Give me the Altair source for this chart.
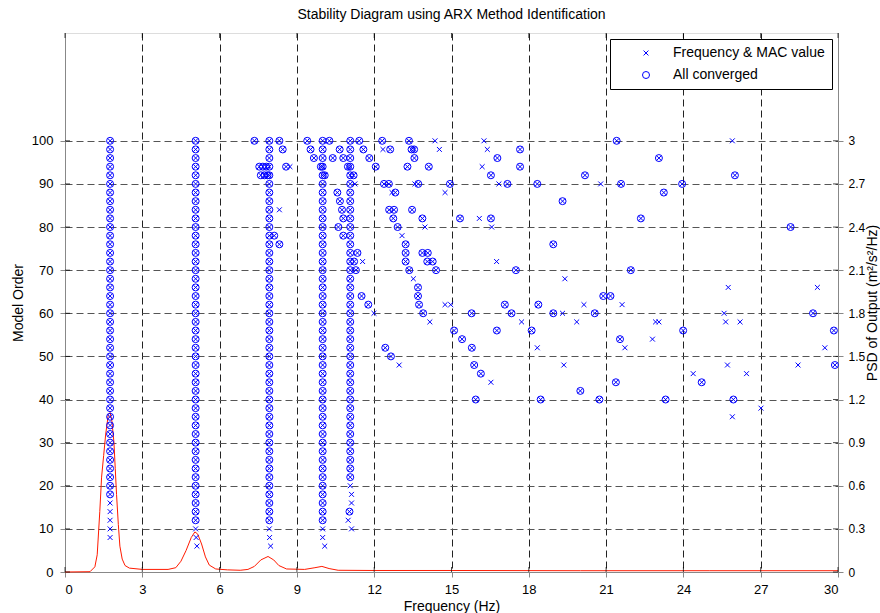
import altair as alt
import pandas as pd

TITLE = "Stability Diagram using ARX Method Identification"
X_TICKS = [0, 3, 6, 9, 12, 15, 18, 21, 24, 27, 30]
ORDER_TICKS = [0, 10, 20, 30, 40, 50, 60, 70, 80, 90, 100]
PSD_TICKS = [0, 0.3, 0.6, 0.9, 1.2, 1.5, 1.8, 2.1, 2.4, 2.7, 3]
KINDS = ["Frequency & MAC value", "All converged"]
X_RANGE = [0, 30]
ORDER_RANGE = [0, 125]
PSD_RANGE = [0, 3.75]

# stable columns (frequency of each column and the model orders where a circle sits)
col_freqs = [1.75, 5.07, 7.93, 10.0, 11.07]
col1_orders = [18, 20, 22, 24, 26, 28, 30, 32, 34, 36, 38, 40, 42, 44, 46, 48, 50, 52, 54, 56, 58,
               60, 62, 64, 66, 68, 70, 72, 74, 76, 78, 80, 82, 84, 86, 88, 90, 92, 94, 96, 98, 100]
col2_orders = [12, 14, 16, 18, 20, 22, 24, 26, 28, 30, 32, 34, 36, 38, 40, 42, 44, 46, 48, 50, 52, 54, 56, 58,
               60, 62, 64, 66, 68, 70, 72, 74, 76, 78, 80, 82, 84, 86, 88, 90, 92, 94, 96, 98, 100]
col3_orders = [12, 14, 16, 18, 20, 22, 24, 26, 28, 30, 32, 34, 36, 38, 40, 42, 44, 46, 48, 50, 52, 54, 56, 58,
               60, 62, 64, 66, 68, 70, 72, 74, 76, 78, 80, 82, 84, 86, 88, 90, 92, 94, 96, 98, 100]
col4_orders = [12, 14, 16, 18, 20, 22, 24, 26, 28, 30, 32, 34, 36, 38, 40, 42, 44, 46, 48, 50, 52, 54, 56, 58,
               60, 62, 64, 66, 68, 70, 72, 74, 76, 78, 80, 82, 84, 86, 88, 90, 92, 94, 96, 98, 100]
col5_orders = [22, 24, 26, 28, 30, 32, 34, 36, 38, 40, 42, 44, 46, 48, 50, 52, 54, 56, 58,
               60, 62, 64, 66, 68, 70, 72, 74, 76, 78, 80, 82, 84, 86, 88, 90, 92, 94, 96, 98, 100]
col_orders = [col1_orders, col2_orders, col3_orders, col4_orders, col5_orders]

# other converged poles (circles)
circ_freq = [7.35, 8.32, 9.40, 10.26, 11.42, 12.31, 13.35, 21.41,
             8.45, 9.53, 10.66, 11.58, 12.62, 13.45, 13.55, 17.66,
             9.66, 10.39, 10.80, 11.81, 13.56, 16.78, 23.05,
             7.54, 7.68, 7.81, 8.58, 9.93, 10.98, 12.06, 13.29, 14.12, 17.66,
             7.60, 7.74, 7.86, 10.08, 11.20, 16.53, 20.18, 26.00,
             12.38, 12.57, 13.71, 14.94, 17.17, 18.33, 21.58, 23.95,
             10.57, 12.82, 23.24,
             10.67, 19.31,
             10.75, 12.58, 12.77, 13.47,
             10.80, 12.74, 13.87, 15.33, 16.53, 22.35,
             10.61, 12.91, 28.16,
             8.12, 10.80,
             8.32, 13.22, 18.95,
             11.35, 13.22, 13.87, 14.08,
             11.22, 13.22, 14.06, 14.27,
             11.29, 13.36, 14.40, 17.50, 21.96,
             13.70,
             11.51, 13.70, 20.89, 21.17,
             11.77, 13.74, 17.07, 18.37,
             13.90, 15.78, 17.33, 18.95, 20.56, 29.03,
             15.10, 16.76, 18.11, 23.99, 29.84,
             15.41, 21.54,
             12.43, 15.79,
             12.65,
             15.88, 29.88,
             16.14,
             21.38, 24.71,
             20.00,
             15.94, 18.46, 20.74, 23.31, 25.94,
             11.04]
circ_order = [100, 100, 100, 100, 100, 100, 100, 100,
              98, 98, 98, 98, 98, 98, 98, 98,
              96, 96, 96, 96, 96, 96, 96,
              94, 94, 94, 94, 94, 94, 94, 94, 94, 94,
              92, 92, 92, 92, 92, 92, 92, 92,
              90, 90, 90, 90, 90, 90, 90, 90,
              88, 88, 88,
              86, 86,
              84, 84, 84, 84,
              82, 82, 82, 82, 82, 82,
              80, 80, 80,
              78, 78,
              76, 76, 76,
              74, 74, 74, 74,
              72, 72, 72, 72,
              70, 70, 70, 70, 70,
              66,
              64, 64, 64, 64,
              62, 62, 62, 62,
              60, 60, 60, 60, 60, 60,
              56, 56, 56, 56, 56,
              54, 54,
              52, 52,
              50,
              48, 48,
              46,
              44, 44,
              42,
              40, 40, 40, 40, 40,
              14]

# poles marked only with a cross
cross_freq = [14.36, 16.26, 25.90,
              12.34, 14.53, 16.39,
              8.73, 16.19,
              11.25, 13.58, 16.84, 20.79,
              12.69, 14.75,
              8.32,
              16.08,
              13.97, 16.56,
              13.08,
              11.55, 16.75,
              13.52, 19.40,
              25.74, 29.20,
              14.75, 14.97, 20.14, 21.62,
              11.99, 19.31, 25.58,
              14.16, 17.72, 19.86, 22.92, 23.05, 25.64, 26.20,
              22.80,
              18.33, 21.73, 29.49,
              12.97, 19.36, 25.71, 28.45,
              24.38, 26.45,
              16.53,
              27.01,
              25.90,
              1.75, 1.75, 1.75, 1.75, 1.75,
              5.07, 5.09, 5.12,
              7.93, 7.94, 7.98,
              10.00, 10.00, 10.08,
              11.07, 11.12, 11.12, 10.99, 11.12]
cross_order = [100, 100, 100,
               98, 98, 98,
               94, 94,
               90, 90, 90, 90,
               88, 88,
               84,
               82,
               80, 80,
               78,
               72, 72,
               68, 68,
               66, 66,
               62, 62, 62, 62,
               60, 60, 60,
               58, 58, 58, 58, 58, 58, 58,
               54,
               52, 52, 52,
               48, 48, 48, 48,
               46, 46,
               44,
               38,
               36,
               8, 10, 12, 14, 16,
               10, 8, 6,
               10, 8, 6,
               10, 8, 6,
               20, 18, 16, 12, 10]

# PSD of output (m^2/s^2/Hz)
psd_freq = [0.0, 0.97, 1.16, 1.25, 1.35, 1.42, 1.50, 1.58, 1.68, 1.75, 1.82, 1.90, 1.95, 2.00,
            2.07, 2.13, 2.22, 2.33, 2.50, 3.00, 4.00, 4.30, 4.50, 4.70, 4.90, 5.04, 5.15, 5.30,
            5.45, 5.60, 5.85, 6.30, 6.80, 7.10, 7.35, 7.60, 7.88, 8.10, 8.30, 8.60, 9.30, 9.70,
            9.97, 10.25, 10.60, 12.0, 15.0, 20.0, 25.0, 30.0]
psd_val = [0.0, 0.002, 0.036, 0.12, 0.42, 0.66, 0.81, 0.96, 1.095, 1.11, 1.05, 0.90, 0.72, 0.54,
           0.33, 0.18, 0.09, 0.045, 0.027, 0.018, 0.018, 0.03, 0.075, 0.15, 0.24, 0.279, 0.264, 0.195,
           0.105, 0.048, 0.021, 0.015, 0.012, 0.018, 0.039, 0.084, 0.108, 0.084, 0.045, 0.021, 0.018, 0.03,
           0.039, 0.024, 0.012, 0.0105, 0.0105, 0.009, 0.009, 0.009]

FONT = "Liberation Sans"
X_PATH = "M-0.7,-0.7L0.7,0.7M-0.7,0.7L0.7,-0.7"

rows = []
for f, orders in zip(col_freqs, col_orders):
    for o in orders:
        rows.append({"freq": f, "order": o, "kind": KINDS[1]})
for f, o in zip(circ_freq, circ_order):
    rows.append({"freq": f, "order": o, "kind": KINDS[1]})
circles = pd.DataFrame(rows)
crosses = pd.concat([
    circles.assign(kind=KINDS[0]),
    pd.DataFrame({"freq": cross_freq, "order": cross_order, "kind": KINDS[0]}),
])
pts = pd.concat([circles, crosses], ignore_index=True)
psd = pd.DataFrame({"freq": psd_freq, "psd": psd_val})
xt = pd.DataFrame({"freq": X_TICKS})
yt = pd.DataFrame({"order": ORDER_TICKS})

x_scale = alt.Scale(domain=X_RANGE, nice=False, zero=False)
o_scale = alt.Scale(domain=ORDER_RANGE, nice=False, zero=True)

x_enc = alt.X("freq:Q", scale=x_scale,
              axis=alt.Axis(values=X_TICKS, title="Frequency (Hz)", grid=True, gridColor="#222222",
                            gridDash=[7, 4], labelFontSize=13, titleFontSize=14, labelPadding=6,
                            titlePadding=3, orient="bottom", titleFontWeight="normal"))

line = alt.Chart(psd).mark_line(color="#ff1a00", strokeWidth=1).encode(
    x=x_enc,
    y=alt.Y("psd:Q", scale=alt.Scale(domain=PSD_RANGE, nice=False, zero=True),
            axis=alt.Axis(orient="right", values=PSD_TICKS, format=".1~f", grid=False,
                          title="PSD of Output (m²/s²/Hz)", titleAngle=270, labelFontSize=12,
                          titleFontSize=14, labelPadding=5, titlePadding=15,
                          titleFontWeight="normal")),
)

points = alt.Chart(pts).mark_point(filled=False, strokeWidth=1, color="#0000ff", size=49, opacity=1).encode(
    x=x_enc,
    y=alt.Y("order:Q", scale=o_scale,
            axis=alt.Axis(orient="left", values=ORDER_TICKS, title="Model Order", grid=True,
                          gridColor="#555555", gridDash=[7, 4], labelFontSize=13, titleFontSize=14,
                          labelPadding=7, titlePadding=6, titleFontWeight="normal")),
    shape=alt.Shape("kind:N", scale=alt.Scale(domain=KINDS, range=[X_PATH, "circle"]),
                    legend=alt.Legend(title=None, orient="top-right", offset=6, padding=7,
                                      fillColor="white", strokeColor="black", labelFontSize=14,
                                      labelFont=FONT, symbolOffset=22, labelOffset=20, rowPadding=8,
                                      symbolSize=49, symbolStrokeColor="#0000ff", symbolStrokeWidth=1,
                                      symbolFillColor="transparent", labelColor="black")),
)

# inward tick marks on the four sides of the box
tick_bottom = alt.Chart(xt).mark_tick(orient="vertical", color="black", size=5, thickness=1).encode(
    x=alt.X("freq:Q", scale=x_scale), y=alt.datum(ORDER_RANGE[0]), yOffset=alt.value(-2.5))
tick_top = alt.Chart(xt).mark_tick(orient="vertical", color="black", size=5, thickness=1).encode(
    x=alt.X("freq:Q", scale=x_scale), y=alt.datum(ORDER_RANGE[1]), yOffset=alt.value(2.5))
tick_left = alt.Chart(yt).mark_tick(orient="horizontal", color="black", size=5, thickness=1).encode(
    y=alt.Y("order:Q", scale=o_scale), x=alt.datum(X_RANGE[0]), xOffset=alt.value(2.5))
tick_right = alt.Chart(yt).mark_tick(orient="horizontal", color="black", size=5, thickness=1).encode(
    y=alt.Y("order:Q", scale=o_scale), x=alt.datum(X_RANGE[1]), xOffset=alt.value(-2.5))

left_part = alt.layer(points, tick_bottom, tick_top, tick_left, tick_right)

chart = alt.layer(line, left_part).resolve_scale(y="independent").properties(
    width=773, height=539,
    autosize=alt.AutoSizeParams(type="none"),
    padding={"left": 65, "top": 33, "right": 42, "bottom": 41},
    title=alt.TitleParams(TITLE, fontSize=14, fontWeight="normal", font=FONT, color="black",
                          offset=11, anchor="middle"),
).configure_view(stroke="black", strokeWidth=1).configure_axis(
    labelFont=FONT, titleFont=FONT, titleFontWeight="normal", labelColor="black",
    titleColor="black", domain=False, ticks=False,
).configure(background="white")

chart.save("out.html", embed_options={"renderer": "svg", "actions": False})
